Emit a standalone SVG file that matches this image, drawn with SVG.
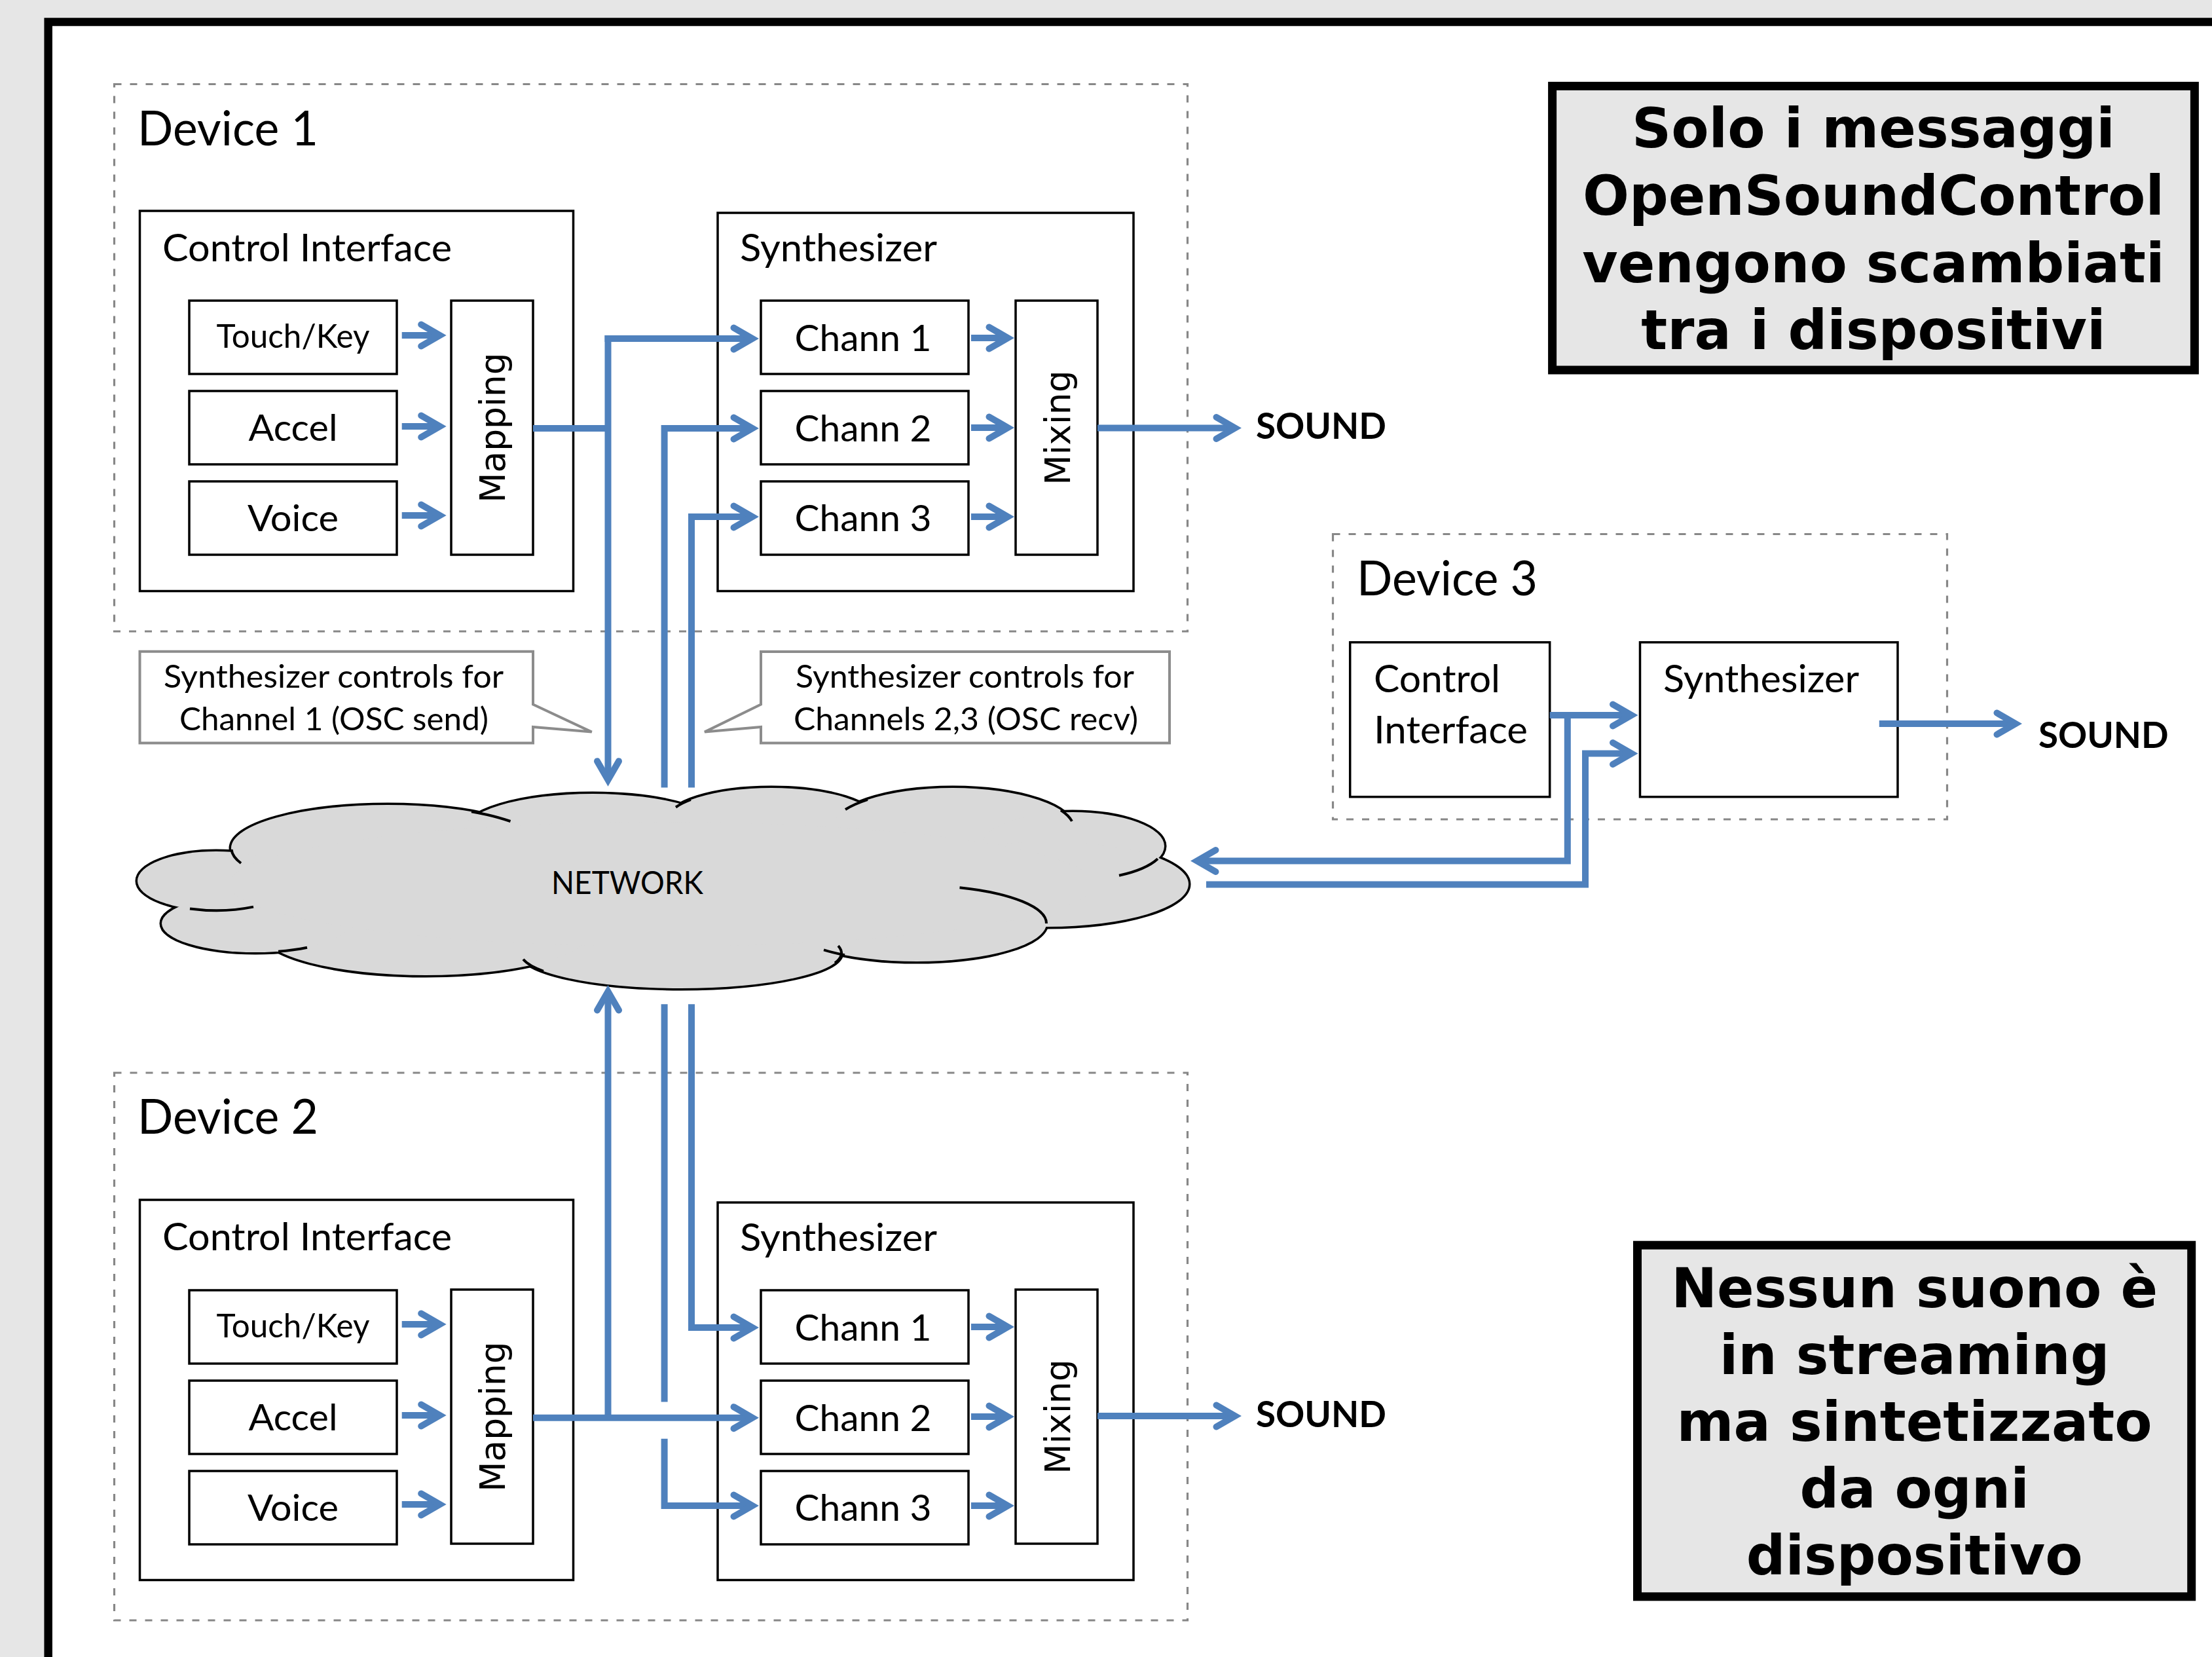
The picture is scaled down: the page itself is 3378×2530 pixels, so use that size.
<svg xmlns="http://www.w3.org/2000/svg" width="3378" height="2530" viewBox="0 0 3378 2530">
<style>
.box{fill:#fff;stroke:#000;stroke-width:3.5}
.dash{fill:none;stroke:#878787;stroke-width:3.2;stroke-dasharray:11 13}
.callout{fill:#fff;stroke:#8c8c8c;stroke-width:4}
.note{fill:#e6e6e6;stroke:#000;stroke-width:13}
.conn{fill:none;stroke:#4f81bd;stroke-width:10;stroke-linejoin:miter;stroke-linecap:butt}
.arr{marker-end:url(#ah)}
.t{font-family:Lato,"Liberation Sans",sans-serif;fill:#000}
.dev{font-size:74px}
.hd{font-size:57.5px}
.lb{font-size:56px;text-anchor:middle}
.tk{font-size:49.5px;text-anchor:middle}
.co{font-size:48.5px;text-anchor:middle}
.snd{font-size:55px;font-weight:bold}
.dv{font-family:"DejaVu Sans",Verdana,sans-serif;font-size:53.5px;text-anchor:middle;fill:#000}
.big{font-family:"DejaVu Sans",Verdana,sans-serif;font-weight:bold;font-size:83.5px;text-anchor:middle;fill:#000}
.cs{fill:#000;stroke:#000;stroke-width:7}
.cf{fill:#d9d9d9;stroke:none}
.ci{fill:none;stroke:#000;stroke-width:4}
</style>
<defs>
<marker id="ah" markerUnits="userSpaceOnUse" viewBox="-40 -30 50 60" markerWidth="50" markerHeight="60" refX="0" refY="0" orient="auto" overflow="visible">
<path d="M-28.5,-16.5 L0,0 L-28.5,16.5" fill="none" stroke="#4f81bd" stroke-width="10" stroke-linecap="round" stroke-linejoin="miter"/>
</marker>
</defs>
<rect x="0" y="0" width="3378" height="2530" fill="#e6e6e6"/>
<rect id="frame" x="73.7" y="33.5" width="3400" height="2600" fill="#fff" stroke="#000" stroke-width="12.5"/>

<g id="note-top">
<rect class="note" x="2370.6" y="131.4" width="980.8" height="433.6"/>
<text class="big" x="2861" y="225">Solo i messaggi</text>
<text class="big" x="2861" y="328">OpenSoundControl</text>
<text class="big" x="2861" y="430.5">vengono scambiati</text>
<text class="big" x="2861" y="533">tra i dispositivi</text>
</g>
<g id="note-bottom">
<rect class="note" x="2500.5" y="1901.2" width="846.2" height="536.6"/>
<text class="big" x="2923.6" y="1995.5">Nessun suono è</text>
<text class="big" x="2923.6" y="2097.5">in streaming</text>
<text class="big" x="2923.6" y="2199.5">ma sintetizzato</text>
<text class="big" x="2923.6" y="2301.5">da ogni</text>
<text class="big" x="2923.6" y="2403.5">dispositivo</text>
</g>

<g id="device1">
<rect class="dash" x="174.5" y="128.5" width="1639" height="835.5"/>
<text class="t dev" x="210" y="222" textLength="276" lengthAdjust="spacingAndGlyphs">Device 1</text>
<g id="d1-control">
<rect class="box" x="213.5" y="322" width="662" height="580.5"/>
<text class="t hd" x="248" y="399" textLength="442" lengthAdjust="spacingAndGlyphs">Control Interface</text>
</g>
<g id="d1-touch"><rect class="box" x="289" y="459" width="317" height="112"/><text class="t tk" x="447.5" y="531" textLength="234" lengthAdjust="spacingAndGlyphs">Touch/Key</text></g>
<g id="d1-accel"><rect class="box" x="289" y="597" width="317" height="112"/><text class="t lb" x="447.5" y="673" textLength="136" lengthAdjust="spacingAndGlyphs">Accel</text></g>
<g id="d1-voice"><rect class="box" x="289" y="735" width="317" height="112"/><text class="t lb" x="447.5" y="811" textLength="139" lengthAdjust="spacingAndGlyphs">Voice</text></g>
<g id="d1-mapping"><rect class="box" x="689" y="459" width="125" height="388"/><text class="dv" transform="translate(771,653) rotate(-90)">Mapping</text></g>
<g id="d1-synth">
<rect class="box" x="1096" y="325" width="635" height="577.5"/>
<text class="t hd" x="1130" y="399" textLength="301" lengthAdjust="spacingAndGlyphs">Synthesizer</text>
</g>
<g id="d1-chann1"><rect class="box" x="1162" y="459" width="317" height="112"/><text class="t lb" x="1318" y="536" textLength="209" lengthAdjust="spacingAndGlyphs">Chann 1</text></g>
<g id="d1-chann2"><rect class="box" x="1162" y="597" width="317" height="112"/><text class="t lb" x="1318" y="674" textLength="209" lengthAdjust="spacingAndGlyphs">Chann 2</text></g>
<g id="d1-chann3"><rect class="box" x="1162" y="735" width="317" height="112"/><text class="t lb" x="1318" y="811" textLength="209" lengthAdjust="spacingAndGlyphs">Chann 3</text></g>
<g id="d1-mixing"><rect class="box" x="1551" y="459" width="125" height="388"/><text class="dv" transform="translate(1634,653) rotate(-90)">Mixing</text></g>
<text id="d1-sound" class="t snd" x="1918" y="669.5" textLength="199" lengthAdjust="spacingAndGlyphs">SOUND</text>
</g>

<g id="device2">
<rect class="dash" x="174.5" y="1638" width="1639" height="836"/>
<text class="t dev" x="210" y="1731" textLength="276" lengthAdjust="spacingAndGlyphs">Device 2</text>
<g transform="translate(0,1510)">
<g id="d2-control">
<rect class="box" x="213.5" y="322" width="662" height="580.5"/>
<text class="t hd" x="248" y="399" textLength="442" lengthAdjust="spacingAndGlyphs">Control Interface</text>
</g>
<g id="d2-touch"><rect class="box" x="289" y="460" width="317" height="112"/><text class="t tk" x="447.5" y="532" textLength="234" lengthAdjust="spacingAndGlyphs">Touch/Key</text></g>
<g id="d2-accel"><rect class="box" x="289" y="598" width="317" height="112"/><text class="t lb" x="447.5" y="674" textLength="136" lengthAdjust="spacingAndGlyphs">Accel</text></g>
<g id="d2-voice"><rect class="box" x="289" y="736" width="317" height="112"/><text class="t lb" x="447.5" y="812" textLength="139" lengthAdjust="spacingAndGlyphs">Voice</text></g>
<g id="d2-mapping"><rect class="box" x="689" y="459" width="125" height="388"/><text class="dv" transform="translate(771,653) rotate(-90)">Mapping</text></g>
<g id="d2-synth">
<rect class="box" x="1096" y="326" width="635" height="576.5"/>
<text class="t hd" x="1130" y="400" textLength="301" lengthAdjust="spacingAndGlyphs">Synthesizer</text>
</g>
<g id="d2-chann1"><rect class="box" x="1162" y="460" width="317" height="112"/><text class="t lb" x="1318" y="537" textLength="209" lengthAdjust="spacingAndGlyphs">Chann 1</text></g>
<g id="d2-chann2"><rect class="box" x="1162" y="598" width="317" height="112"/><text class="t lb" x="1318" y="675" textLength="209" lengthAdjust="spacingAndGlyphs">Chann 2</text></g>
<g id="d2-chann3"><rect class="box" x="1162" y="736" width="317" height="112"/><text class="t lb" x="1318" y="812" textLength="209" lengthAdjust="spacingAndGlyphs">Chann 3</text></g>
<g id="d2-mixing"><rect class="box" x="1551" y="459" width="125" height="388"/><text class="dv" transform="translate(1634,653) rotate(-90)">Mixing</text></g>
</g>
<text id="d2-sound" class="t snd" x="1918" y="2179" textLength="199" lengthAdjust="spacingAndGlyphs">SOUND</text>
</g>

<g id="device3">
<rect class="dash" x="2035.5" y="815.5" width="938" height="435.5"/>
<text class="t dev" x="2072" y="908.5" textLength="276" lengthAdjust="spacingAndGlyphs">Device 3</text>
<g id="d3-control">
<rect class="box" x="2061.7" y="980.7" width="305" height="236"/>
<text class="t hd" x="2098" y="1056.6" textLength="193" lengthAdjust="spacingAndGlyphs">Control</text>
<text class="t hd" x="2098" y="1135" textLength="235" lengthAdjust="spacingAndGlyphs">Interface</text>
</g>
<g id="d3-synth">
<rect class="box" x="2504.5" y="980.7" width="393.5" height="236"/>
<text class="t hd" x="2540" y="1056.6" textLength="299" lengthAdjust="spacingAndGlyphs">Synthesizer</text>
</g>
<text id="d3-sound" class="t snd" x="3113" y="1142" textLength="198.6" lengthAdjust="spacingAndGlyphs">SOUND</text>
</g>

<g id="callout1">
<path class="callout" d="M213.5,994.8 H814 V1075.5 L903.7,1117.6 L814,1110 V1134.5 H213.5 Z"/>
<text class="t co" x="509.5" y="1050" textLength="519" lengthAdjust="spacingAndGlyphs">Synthesizer controls for</text>
<text class="t co" x="510" y="1115" textLength="472" lengthAdjust="spacingAndGlyphs">Channel 1 (OSC send)</text>
</g>
<g id="callout2">
<path class="callout" d="M1162,995 H1786 V1134.5 H1162 V1110 L1076,1117.6 L1162,1075.5 Z"/>
<text class="t co" x="1473.5" y="1050" textLength="517" lengthAdjust="spacingAndGlyphs">Synthesizer controls for</text>
<text class="t co" x="1475" y="1115" textLength="526" lengthAdjust="spacingAndGlyphs">Channels 2,3 (OSC recv)</text>
</g>

<g id="network">
<g class="cs">
<ellipse cx="592" cy="1295" rx="239" ry="66"/>
<ellipse cx="905" cy="1272" rx="200" ry="60"/>
<ellipse cx="1178" cy="1253" rx="160" ry="50"/>
<ellipse cx="1455" cy="1265" rx="185" ry="62"/>
<ellipse cx="1638" cy="1292" rx="140" ry="52"/>
<ellipse cx="1600" cy="1350" rx="215" ry="65"/>
<ellipse cx="1400" cy="1410" rx="198" ry="58"/>
<ellipse cx="1040" cy="1455" rx="245" ry="54"/>
<ellipse cx="650" cy="1424" rx="250" ry="65"/>
<ellipse cx="390" cy="1410" rx="143" ry="44"/>
<ellipse cx="330" cy="1345" rx="120" ry="45"/>
</g>
<g class="cf">
<ellipse cx="592" cy="1295" rx="239" ry="66"/>
<ellipse cx="905" cy="1272" rx="200" ry="60"/>
<ellipse cx="1178" cy="1253" rx="160" ry="50"/>
<ellipse cx="1455" cy="1265" rx="185" ry="62"/>
<ellipse cx="1638" cy="1292" rx="140" ry="52"/>
<ellipse cx="1600" cy="1350" rx="215" ry="65"/>
<ellipse cx="1400" cy="1410" rx="198" ry="58"/>
<ellipse cx="1040" cy="1455" rx="245" ry="54"/>
<ellipse cx="650" cy="1424" rx="250" ry="65"/>
<ellipse cx="390" cy="1410" rx="143" ry="44"/>
<ellipse cx="330" cy="1345" rx="120" ry="45"/>
<ellipse cx="1010" cy="1350" rx="660" ry="95"/>
</g>
<g class="ci">
<path d="M353.5,1297 A239 66 0 0 0 368,1318"/>
<path d="M720,1239.3 A239 66 0 0 1 779.5,1254"/>
<path d="M1032,1232.5 A160 50 0 0 1 1055,1221"/>
<path d="M1291,1236 A185 62 0 0 1 1325,1220.9"/>
<path d="M1620,1237 A185 62 0 0 1 1637,1253.9"/>
<path d="M1768,1311.3 A140 52 0 0 1 1709,1336.8"/>
<path d="M1465.5,1355.3 A198 58 0 0 1 1598,1410"/>
<path d="M1290,1458.2 A198 58 0 0 1 1258,1450.4"/>
<path d="M1280,1444.1 A245 54 0 0 1 1275,1470.3"/>
<path d="M830,1482.8 A245 54 0 0 1 799,1464.7"/>
<path d="M469,1446.7 A143 44 0 0 1 425,1452.7"/>
<path d="M290,1387.4 A120 45 0 0 0 387,1384.6"/>
</g>
<text class="t" x="958" y="1365" font-size="48" text-anchor="middle" textLength="232" lengthAdjust="spacingAndGlyphs">NETWORK</text>
</g>

<g id="connectors" class="conn">
<path d="M814,654 H928.5"/>
<path class="arr" d="M928.5,512 V1190.7"/>
<path class="arr" d="M923.5,517 H1149"/>
<path class="arr" d="M1014.6,1202.6 V654 H1149"/>
<path class="arr" d="M1056,1202.6 V789 H1149"/>
<path class="arr" d="M613.7,512 H671.7"/>
<path class="arr" d="M613.7,651 H671.7"/>
<path class="arr" d="M613.7,787 H671.7"/>
<path class="arr" d="M1483,516 H1539"/>
<path class="arr" d="M1483,653 H1539"/>
<path class="arr" d="M1483,789 H1539"/>
<path class="arr" d="M1676,653.5 H1886"/>

<path class="arr" d="M928.5,2164.7 V1514"/>
<path class="arr" d="M814,2164.7 H1149"/>
<path class="arr" d="M1056,1533.3 V2027 H1149"/>
<path d="M1014.6,1533.3 V2140.5"/>
<path class="arr" d="M1014.6,2196.8 V2299 H1149"/>
<path class="arr" d="M613.7,2022 H671.7"/>
<path class="arr" d="M613.7,2161 H671.7"/>
<path class="arr" d="M613.7,2297 H671.7"/>
<path class="arr" d="M1483,2026 H1539"/>
<path class="arr" d="M1483,2163 H1539"/>
<path class="arr" d="M1483,2299 H1539"/>
<path class="arr" d="M1676,2162 H1886"/>

<path class="arr" d="M2366.6,1092 H2491.5"/>
<path class="arr" d="M2393.8,1092 V1314.5 H1828"/>
<path class="arr" d="M1842,1350.4 H2421 V1150.5 H2491.5"/>
<path class="arr" d="M2869.8,1105 H3078"/>
</g>
</svg>
